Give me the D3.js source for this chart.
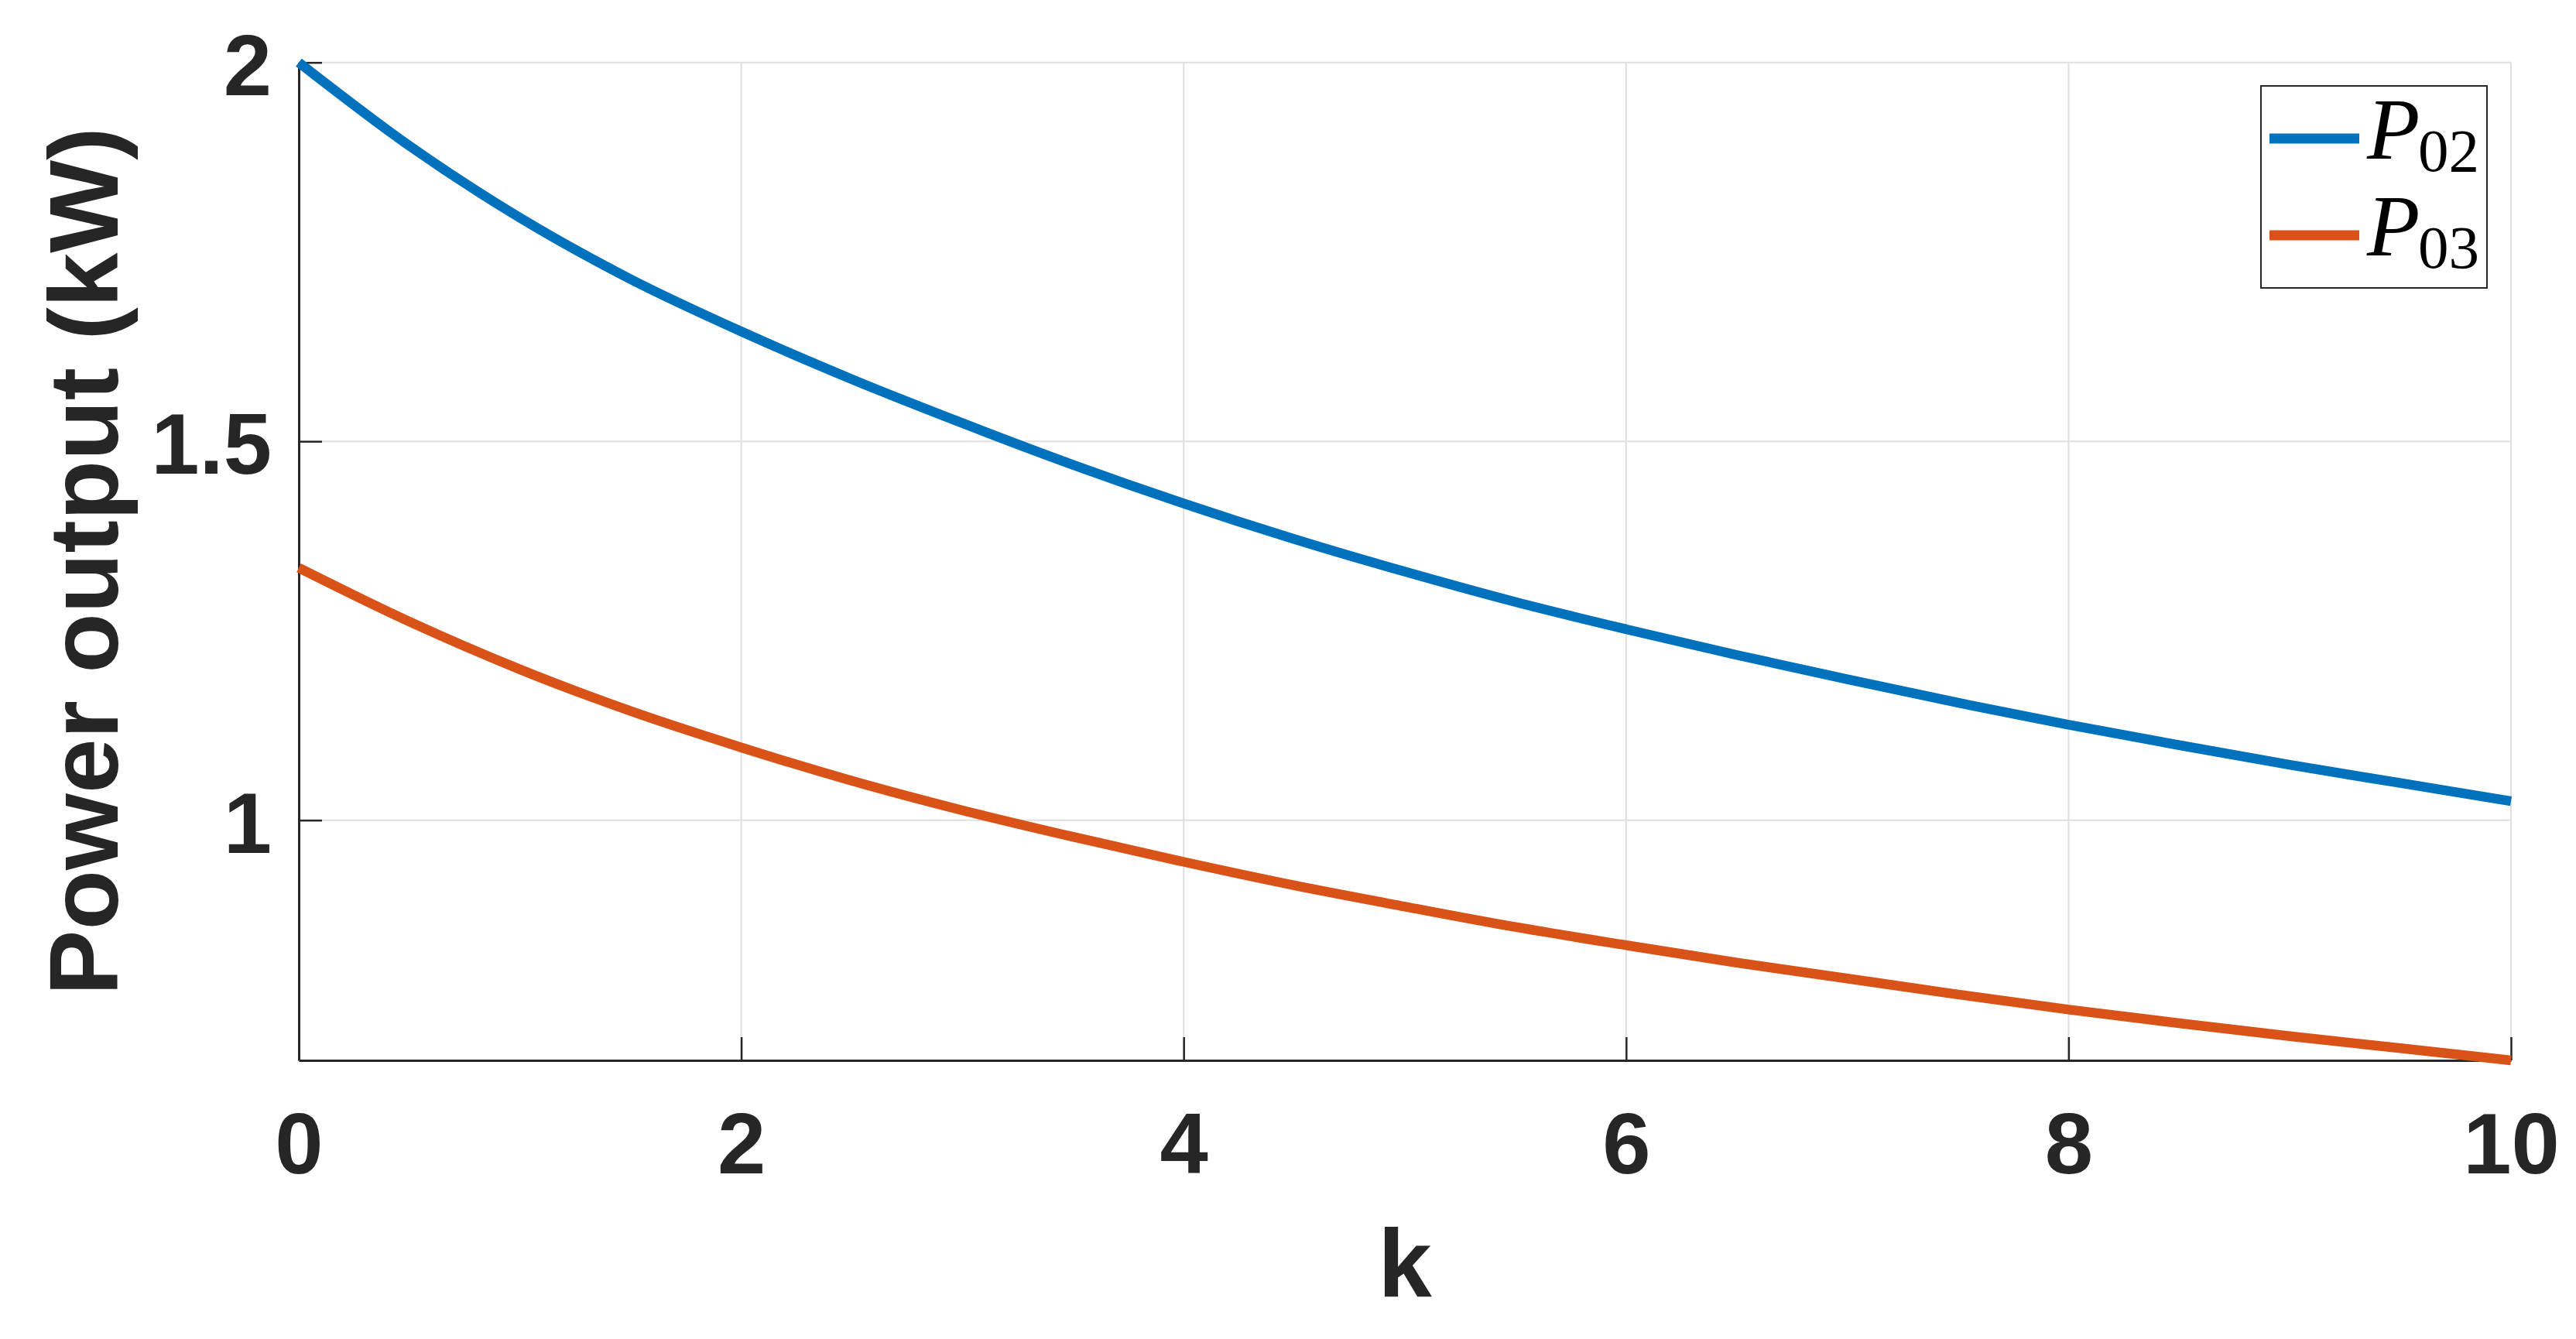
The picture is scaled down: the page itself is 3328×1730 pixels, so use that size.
<!DOCTYPE html>
<html>
<head>
<meta charset="utf-8">
<script src="https://cdn.jsdelivr.net/npm/d3@7"></script>
<style>
  body { margin: 0; background: #fff; }
  .tick text { font-family: "Liberation Sans", Arial, Helvetica, sans-serif; font-weight: bold; }
</style>
</head>
<body>
<div id="chart"></div>
<script>
// values, k = 0 .. 10 step 0.5
const kValues = [0, 0.5, 1, 1.5, 2, 2.5, 3, 3.5, 4, 4.5, 5, 5.5, 6, 6.5, 7, 7.5, 8, 8.5, 9, 9.5, 10];
const p02 = [2.000, 1.890, 1.795, 1.714, 1.645, 1.582, 1.524, 1.469, 1.418, 1.371, 1.328,
             1.288, 1.252, 1.218, 1.186, 1.155, 1.126, 1.099, 1.073, 1.049, 1.025];
const p03 = [1.333, 1.262, 1.199, 1.144, 1.096, 1.052, 1.013, 0.978, 0.945, 0.914, 0.886,
             0.859, 0.835, 0.812, 0.791, 0.770, 0.750, 0.732, 0.715, 0.699, 0.683];
const seriesNames = ["02", "03"];
const seriesColors = ["#0072BD", "#D95319"];
const xTicks = [0, 2, 4, 6, 8, 10];
const yTicks = [1, 1.5, 2];
const yDomain = [0.683, 2];

function draw_power_chart() {
    const W = 3328, H = 1730;
    const margin = { top: 80.7, right: 84, bottom: 360, left: 386 };
    const width = W - margin.left - margin.right;
    const height = H - margin.top - margin.bottom;
    const axisColor = "#262626";

    const root = d3.select("#chart")
        .append("svg")
        .attr("width", W)
        .attr("height", H)
        .style("display", "block");

    root.append("rect").attr("width", W).attr("height", H).attr("fill", "#fff");

    const svg = root.append("g")
        .attr("transform", `translate(${margin.left},${margin.top})`);

    const x = d3.scaleLinear().domain([0, 10]).range([0, width]);
    const y = d3.scaleLinear().domain(yDomain).range([height, 0]);

    // grid
    svg.append("g")
        .selectAll("line.vgrid")
        .data(xTicks)
        .join("line")
        .attr("x1", d => x(d)).attr("x2", d => x(d))
        .attr("y1", 0).attr("y2", height)
        .attr("stroke", "#dfdfdf")
        .attr("stroke-width", 2);

    svg.append("g")
        .selectAll("line.hgrid")
        .data(yTicks)
        .join("line")
        .attr("x1", 0).attr("x2", width)
        .attr("y1", d => y(d)).attr("y2", d => y(d))
        .attr("stroke", "#dfdfdf")
        .attr("stroke-width", 2);

    // axes, ticks point inward
    const xAxis = svg.append("g")
        .attr("transform", `translate(0,${height})`)
        .call(d3.axisBottom(x).tickValues(xTicks).tickFormat(d3.format("d"))
            .tickSizeInner(-30).tickSizeOuter(0).tickPadding(66));

    const yAxis = svg.append("g")
        .call(d3.axisLeft(y).tickValues(yTicks).tickFormat(d => String(d))
            .tickSizeInner(-30).tickSizeOuter(0).tickPadding(35));

    [xAxis, yAxis].forEach(a => {
        a.select(".domain").attr("stroke", axisColor).attr("stroke-width", 3);
        a.selectAll(".tick line").attr("stroke", axisColor).attr("stroke-width", 2.5);
        a.selectAll(".tick text")
            .attr("fill", axisColor)
            .style("font-size", "112px");
    });
    yAxis.selectAll(".tick text").attr("dy", "0.37em");

    // labels
    svg.append("text")
        .attr("text-anchor", "middle")
        .attr("x", width / 2)
        .attr("y", 1675 - margin.top)
        .attr("fill", axisColor)
        .style("font-family", "'Liberation Sans', Arial, Helvetica, sans-serif")
        .style("font-weight", "bold")
        .style("font-size", "125px")
        .text("k");

    svg.append("text")
        .attr("text-anchor", "middle")
        .attr("transform", `translate(${152 - margin.left},${height / 2}) rotate(-90)`)
        .attr("fill", axisColor)
        .style("font-family", "'Liberation Sans', Arial, Helvetica, sans-serif")
        .style("font-weight", "bold")
        .style("font-size", "127px")
        .text("Power output (kW)");

    // curves
    const series = [p02, p03].map((vals, i) => ({
        name: seriesNames[i],
        color: seriesColors[i],
        points: kValues.map((k, j) => ({ k: k, v: vals[j] }))
    }));

    const line = d3.line()
        .curve(d3.curveMonotoneX)
        .x(d => x(d.k))
        .y(d => y(d.v));

    svg.selectAll(".curve")
        .data(series)
        .join("path")
        .attr("class", "curve")
        .attr("fill", "none")
        .attr("stroke", d => d.color)
        .attr("stroke-width", 12.5)
        .attr("d", d => line(d.points));

    // legend
    const legend = root.append("g")
        .attr("transform", "translate(2921,111)");

    legend.append("rect")
        .attr("width", 292)
        .attr("height", 261)
        .attr("fill", "#fff")
        .attr("stroke", axisColor)
        .attr("stroke-width", 2);

    const item = legend.selectAll("g.item")
        .data(series)
        .join("g")
        .attr("class", "item")
        .attr("transform", (d, i) => `translate(0,${68 + i * 125})`);

    item.append("line")
        .attr("x1", 11).attr("x2", 127)
        .attr("stroke", d => d.color)
        .attr("stroke-width", 13);

    const label = item.append("text")
        .attr("x", 137)
        .attr("y", 26)
        .attr("fill", "#000")
        .style("font-family", "'Liberation Serif', 'Times New Roman', serif");

    label.append("tspan")
        .style("font-style", "italic")
        .style("font-size", "112px")
        .text("P");

    label.append("tspan")
        .attr("x", 203)
        .attr("dy", 16)
        .style("font-size", "79px")
        .text(d => d.name);
}

draw_power_chart();
</script>
</body>
</html>
